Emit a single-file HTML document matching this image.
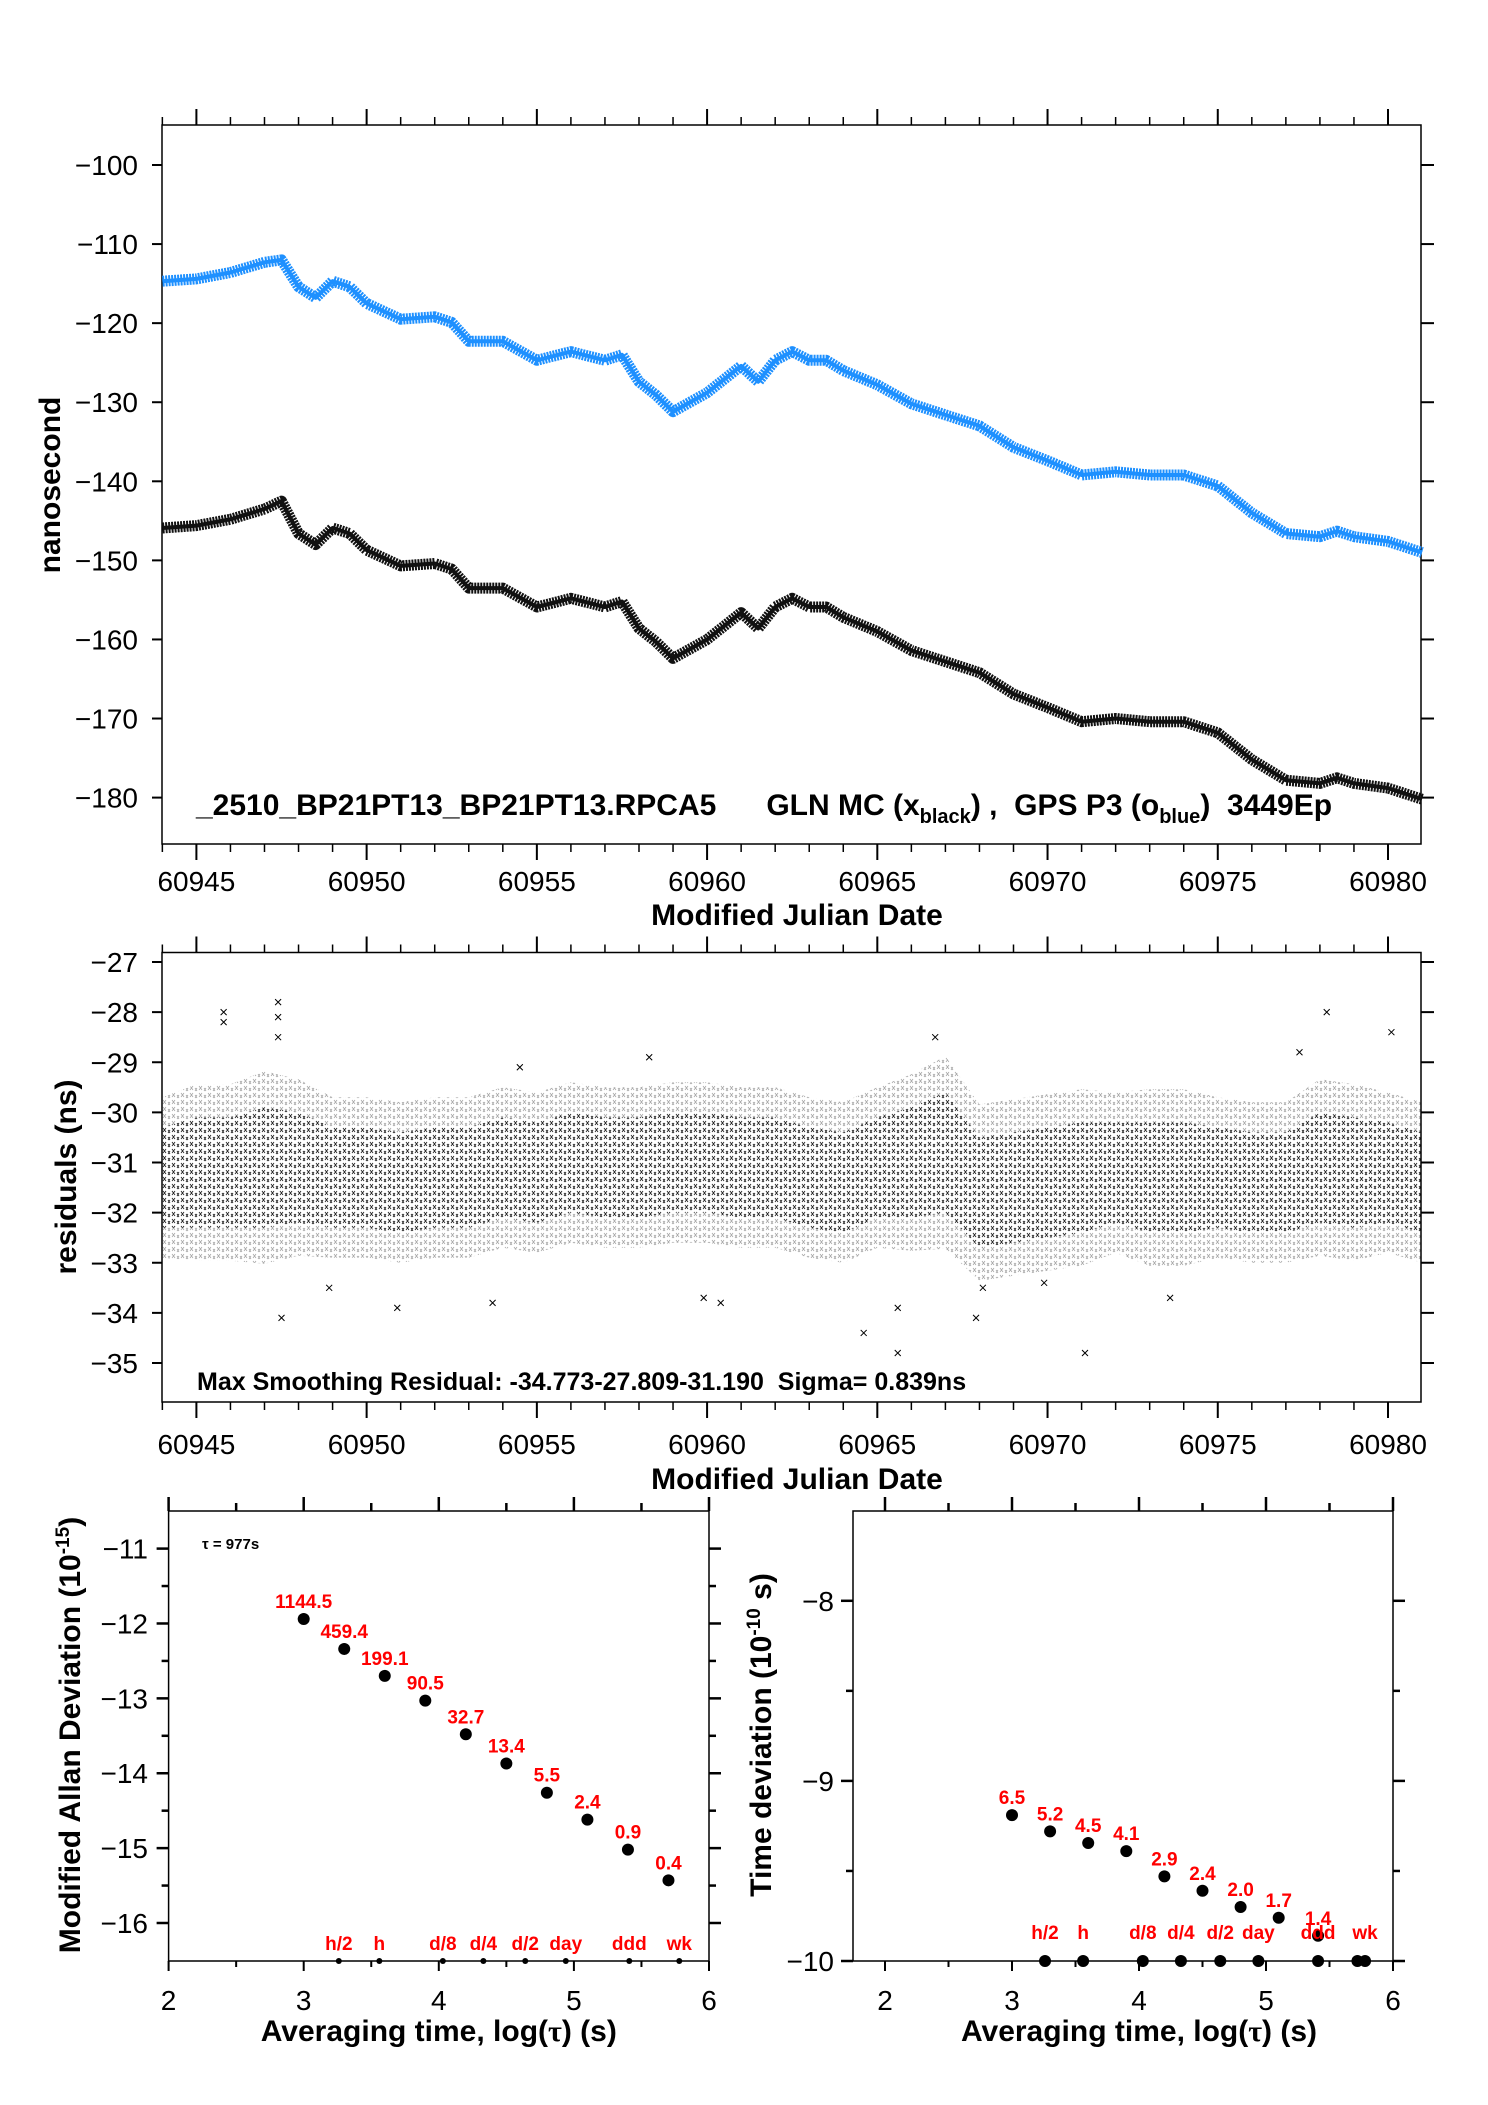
<!DOCTYPE html>
<html><head><meta charset="utf-8">
<style>
html,body{margin:0;padding:0;background:#fff;}
svg{display:block;font-family:"Liberation Sans",Arial,sans-serif;}
.tick{font-size:28px;fill:#000;}
.ttl{font-size:30px;font-weight:bold;fill:#000;}
.red{font-size:19px;font-weight:bold;fill:#f00;}
</style></head>
<body>
<svg id="chart" width="1488" height="2105" viewBox="0 0 1488 2105" xmlns="http://www.w3.org/2000/svg">
<defs>
<pattern id="xpat" width="9" height="7" patternUnits="userSpaceOnUse">
<path d="M1 1 L4 5 M4 1 L1 5 M6 3 L8 6 M8 3 L6 6" stroke="#000" stroke-width="0.8"/>
</pattern>
</defs>
<g id="g"></g>
</svg>
<script>
// ---- Top panel data (MJD vs ns) ----
const mjd = [60944,60945,60946,60947,60947.5,60948,60948.5,60949,60949.5,60950,60950.5,60951,60952,60952.5,60953,60954,60955,60956,60957,60957.5,60958,60958.5,60959,60960,60961,60961.5,60962,60962.5,60963,60963.5,60964,60965,60966,60967,60968,60969,60970,60971,60972,60973,60974,60975,60976,60977,60978,60978.5,60979,60980,60981];
const gpsBlue = [-114.7,-114.4,-113.6,-112.3,-112,-115.4,-116.8,-114.7,-115.4,-117.5,-118.5,-119.5,-119.2,-119.9,-122.3,-122.3,-124.7,-123.6,-124.7,-124,-127.4,-129.1,-131.2,-128.8,-125.4,-127.4,-124.7,-123.6,-124.7,-124.7,-126,-127.8,-130.2,-131.6,-133,-135.7,-137.4,-139.2,-138.8,-139.2,-139.2,-140.6,-144,-146.6,-147,-146.3,-147,-147.6,-149];
const glnBlack = [-145.9,-145.6,-144.8,-143.5,-142.5,-146.6,-148,-145.9,-146.6,-148.7,-149.7,-150.7,-150.4,-151.1,-153.5,-153.5,-155.9,-154.8,-155.9,-155.2,-158.6,-160.3,-162.4,-160,-156.6,-158.6,-155.9,-154.8,-155.9,-155.9,-157.2,-159,-161.4,-162.8,-164.2,-166.9,-168.6,-170.4,-170,-170.4,-170.4,-171.8,-175.2,-177.8,-178.2,-177.5,-178.2,-178.8,-180.2];
const xTicksMjd = [60945,60950,60955,60960,60965,60970,60975,60980];
const yTicksTop = [-100,-110,-120,-130,-140,-150,-160,-170,-180];
// ---- Residual panel ----
const resMjd = [60944,60945,60946,60947,60948,60949,60950,60951,60952,60953,60954,60955,60956,60957,60958,60959,60960,60961,60962,60963,60964,60965,60966,60967,60968,60969,60970,60971,60972,60973,60974,60975,60976,60977,60978,60979,60980,60981];
const resMean = [-31.3,-31.2,-31.2,-31.1,-31.1,-31.3,-31.3,-31.4,-31.3,-31.3,-31.1,-31.2,-31.0,-31.1,-31.1,-31.0,-31.0,-31.1,-31.1,-31.3,-31.4,-31.1,-31.0,-30.8,-31.6,-31.5,-31.4,-31.3,-31.2,-31.3,-31.3,-31.3,-31.4,-31.4,-31.1,-31.2,-31.2,-31.4];
const resSpread = [1.0,1.1,1.1,1.2,1.1,1.0,1.0,1.0,1.0,1.0,1.0,1.0,1.0,1.0,1.0,1.0,1.0,1.0,1.0,1.0,1.0,1.0,1.1,1.2,1.1,1.1,1.1,1.1,1.0,1.1,1.1,1.0,1.0,1.0,1.1,1.1,1.0,1.0];
const outX = [60945.8,60945.8,60947.4,60947.4,60947.5,60948.9,60950.9,60953.7,60959.9,60960.4,60964.6,60965.6,60965.6,60966.7,60967.9,60968.1,60969.9,60971.1,60973.6,60977.4,60978.2,60980.1,60947.4,60954.5,60958.3];
const outY = [-28.0,-28.2,-27.8,-28.1,-34.1,-33.5,-33.9,-33.8,-33.7,-33.8,-34.4,-34.8,-33.9,-28.5,-34.1,-33.5,-33.4,-34.8,-33.7,-28.8,-28.0,-28.4,-28.5,-29.1,-28.9];
const yTicksRes = [-27,-28,-29,-30,-31,-32,-33,-34,-35];
// ---- Allan deviation ----
const logTau = [3.0,3.3,3.6,3.9,4.2,4.5,4.8,5.1,5.4,5.7];
const madev = [-11.94,-12.34,-12.70,-13.03,-13.48,-13.87,-14.26,-14.62,-15.02,-15.43];
const madevLabels = ["1144.5","459.4","199.1","90.5","32.7","13.4","5.5","2.4","0.9","0.4"];
const logTauT = [3.0,3.3,3.6,3.9,4.2,4.5,4.8,5.1,5.41];
const tdev = [-9.19,-9.28,-9.345,-9.39,-9.53,-9.61,-9.70,-9.76,-9.86];
const tdevLabels = ["6.5","5.2","4.5","4.1","2.9","2.4","2.0","1.7","1.4"];
const markPos = [3.26,3.56,4.03,4.33,4.64,4.94,5.41,5.78];
const markNames = ["h/2","h","d/8","d/4","d/2","day","ddd","wk"];
const xTicksLog = [2,3,4,5,6];
const yTicksMadev = [-11,-12,-13,-14,-15,-16];
const yTicksTdev = [-8,-9,-10];

const NS='http://www.w3.org/2000/svg';
const G=document.getElementById('g');
function el(tag,attrs,parent,text){const e=document.createElementNS(NS,tag);for(const k in attrs)e.setAttribute(k,attrs[k]);if(text!==undefined)e.textContent=text;(parent||G).appendChild(e);return e;}
function lin(d0,d1,p0,p1){return v=>p0+(v-d0)*(p1-p0)/(d1-d0);}

// scales
const TX0=162, TX1=1421;
const xT = lin(60945,60980,196.4,1388);
const yT = lin(-100,-180,165,797.6);
const yR = lin(-27,-35,962,1363);
const xL = lin(2,6,168.6,709);
const yL = lin(-11,-16,1548.6,1923);
const xRt = lin(2,6,885,1393);
const yRt = lin(-8,-10,1600.8,1961);

function frame(x0,y0,x1,y1,name){
  const r=el('rect',{x:x0,y:y0,width:x1-x0,height:y1-y0,fill:'none',stroke:'#000','stroke-width':1.5});
  
  
}
function tk(x1,y1,x2,y2,w){el('line',{x1:x1,y1:y1,x2:x2,y2:y2,stroke:'#000','stroke-width':w||1.5});}

// ===== Top panel =====
frame(TX0,125,TX1,844,'top-plot-frame');
for(let d=60944;d<=60981;d++){const x=xT(d);if(x<TX0-1||x>TX1+1)continue;const maj=(d%5===0);tk(x,125,x,125-(maj?16:8),maj?2:1.5);tk(x,844,x,844+(maj?16:8),maj?2:1.5);}
xTicksMjd.forEach(v=>{const t=el('text',{x:xT(v),y:891,'text-anchor':'middle',class:'tick'},G,String(v));

});
yTicksTop.forEach(v=>{const y=yT(v);tk(152,y,TX0,y,2);tk(TX1,y,TX1+13,y,2);
const t=el('text',{x:138,y:y+10,'text-anchor':'end',class:'tick'},G,'\u2212'+Math.abs(v));

});
let t=el('text',{x:797,y:925,'text-anchor':'middle',class:'ttl'},G,'Modified Julian Date');


t=el('text',{transform:'translate(60,485) rotate(-90)','text-anchor':'middle',class:'ttl'},G,'nanosecond');


function series(vals,color,name){
  const pts=mjd.map((m,i)=>xT(m).toFixed(1)+','+yT(vals[i]).toFixed(1)).join(' ');
  const p=el('polyline',{points:pts,fill:'none',stroke:color,'stroke-width':11,'stroke-linejoin':'round','stroke-dasharray':'2 1'});
  
  
  const p2=el('polyline',{points:pts,fill:'none',stroke:color,'stroke-width':4,'stroke-linejoin':'round'});
  
  
}
series(gpsBlue,'#1e90ff','gps-p3-series');
series(glnBlack,'#111','gln-mc-series');
t=el('text',{x:196,y:815,class:'ttl',style:'font-size:30px;white-space:pre'},G);


t.innerHTML='_2510_BP21PT13_BP21PT13.RPCA5      GLN MC (x<tspan style="font-size:20px" dy="8">black</tspan><tspan dy="-8">) ,  GPS P3 (o</tspan><tspan style="font-size:20px" dy="8">blue</tspan><tspan dy="-8">)  3449Ep</tspan>';

// ===== Residual panel =====
frame(TX0,952.5,TX1,1402,'residual-plot-frame');
for(let d=60944;d<=60981;d++){const x=xT(d);if(x<TX0-1||x>TX1+1)continue;const maj=(d%5===0);tk(x,952.5,x,952.5-(maj?16:8),maj?2:1.5);tk(x,1402,x,1402+(maj?16:8),maj?2:1.5);}
xTicksMjd.forEach(v=>{const t=el('text',{x:xT(v),y:1454,'text-anchor':'middle',class:'tick'},G,String(v));

});
yTicksRes.forEach(v=>{const y=yR(v);tk(152,y,TX0,y,2);tk(TX1,y,TX1+13,y,2);
const t=el('text',{x:138,y:y+10,'text-anchor':'end',class:'tick'},G,'\u2212'+Math.abs(v));

});
t=el('text',{x:797,y:1489,'text-anchor':'middle',class:'ttl'},G,'Modified Julian Date');


t=el('text',{transform:'translate(76,1177) rotate(-90)','text-anchor':'middle',class:'ttl'},G,'residuals (ns)');


{
  const up2=resMjd.map((m,i)=>xT(m).toFixed(1)+','+yR(resMean[i]+resSpread[i]*1.6).toFixed(1));
  const dn2=resMjd.map((m,i)=>xT(m).toFixed(1)+','+yR(resMean[i]-resSpread[i]*1.6).toFixed(1)).reverse();
  const band2=el('polygon',{points:up2.concat(dn2).join(' '),fill:'url(#xpat)','fill-opacity':0.35,stroke:'none'});
  
  
  const up=resMjd.map((m,i)=>xT(m).toFixed(1)+','+yR(resMean[i]+resSpread[i]).toFixed(1));
  const dn=resMjd.map((m,i)=>xT(m).toFixed(1)+','+yR(resMean[i]-resSpread[i]).toFixed(1)).reverse();
  const band=el('polygon',{points:up.concat(dn).join(' '),fill:'url(#xpat)','fill-opacity':0.8,stroke:'none'});
  
  
}
outX.forEach((m,i)=>{const x=xT(m),y=yR(outY[i]);
const p=el('path',{d:`M${x-3} ${y-3}L${x+3} ${y+3}M${x+3} ${y-3}L${x-3} ${y+3}`,stroke:'#000','stroke-width':1});

});
t=el('text',{x:197,y:1390,class:'ttl',style:'font-size:25px;white-space:pre'},G,'Max Smoothing Residual: -34.773-27.809-31.190  Sigma= 0.839ns');



// ===== log panels =====
function logPanel(xs,x0,x1,name){
  for(let v=2;v<=6.001;v+=0.5){const x=xs(v);const maj=Math.abs(v-Math.round(v))<1e-6;tk(x,1511,x,1511-(maj?14:8),2.5);tk(x,1961,x,1961+(maj?10:6),2);}
  xTicksLog.forEach(v=>{const t=el('text',{x:xs(v),y:2010,'text-anchor':'middle',class:'tick'},G,String(v));
  
  });
  const t=el('text',{x:(xs(2)+xs(6))/2,y:2041,'text-anchor':'middle',class:'ttl'},G);
  
  
  t.innerHTML='Averaging time, log(<tspan font-family="Liberation Serif">\u03c4</tspan>) (s)';
}
frame(168.6,1511,709,1961,'madev-plot-frame');
logPanel(xL,168.6,709,'madev');
for(let v=-10.5;v>=-16.5;v-=0.5){const y=yL(v);const maj=Math.abs(v-Math.round(v))<1e-6;if(v>-10.6||v<-16.4)continue;tk(168.6-(maj?12:7),y,168.6,y,2.5);tk(709,y,709+(maj?12:7),y,2.5);}
yTicksMadev.forEach(v=>{const t=el('text',{x:148,y:yL(v)+10,'text-anchor':'end',class:'tick'},G,'\u2212'+Math.abs(v));

});
t=el('text',{transform:'translate(80,1735) rotate(-90)','text-anchor':'middle',class:'ttl'},G);


t.innerHTML='Modified Allan Deviation (10<tspan style="font-size:19px" dy="-11">-15</tspan><tspan dy="11">)</tspan>';
t=el('text',{x:202,y:1549,style:'font-size:15px;font-weight:bold'},G,'\u03c4 = 977s');


logTau.forEach((v,i)=>{const x=xL(v),y=yL(madev[i]);
const c=el('circle',{cx:x,cy:y,r:6,fill:'#000'});


const l=el('text',{x:x,y:y-11,'text-anchor':'middle',class:'red'},G,madevLabels[i]);

});
markPos.forEach((v,i)=>{const x=xL(v);
const c=el('circle',{cx:x,cy:1961,r:3,fill:'#000'});


const l=el('text',{x:x,y:1950,'text-anchor':'middle',class:'red'},G,markNames[i]);

});

// ===== Time deviation panel =====
frame(853,1511,1393,1961,'tdev-plot-frame');
logPanel(xRt,853,1393,'tdev');
for(let v=-7.5;v>=-10;v-=0.5){const y=yRt(v);const maj=Math.abs(v-Math.round(v))<1e-6;if(v>-7.6)continue;tk(853-(maj?12:7),y,853,y,2.5);tk(1393,y,1393+(maj?12:7),y,2.5);}
yTicksTdev.forEach(v=>{const t=el('text',{x:834,y:yRt(v)+10,'text-anchor':'end',class:'tick'},G,'\u2212'+Math.abs(v));

});
t=el('text',{transform:'translate(771,1735) rotate(-90)','text-anchor':'middle',class:'ttl'},G);


t.innerHTML='Time deviation (10<tspan style="font-size:19px" dy="-11">-10</tspan><tspan dy="11"> s)</tspan>';
logTauT.forEach((v,i)=>{const x=xRt(v),y=yRt(tdev[i]);
const c=el('circle',{cx:x,cy:y,r:6,fill:'#000'});


const l=el('text',{x:x,y:y-11,'text-anchor':'middle',class:'red'},G,tdevLabels[i]);

});
markPos.concat([5.72]).forEach((v,i)=>{const x=xRt(v);
const c=el('circle',{cx:x,cy:1961,r:6,fill:'#000'});

});
markPos.forEach((v,i)=>{const x=xRt(v);
const l=el('text',{x:x,y:1939,'text-anchor':'middle',class:'red'},G,markNames[i]);

});
</script>
</body></html>
